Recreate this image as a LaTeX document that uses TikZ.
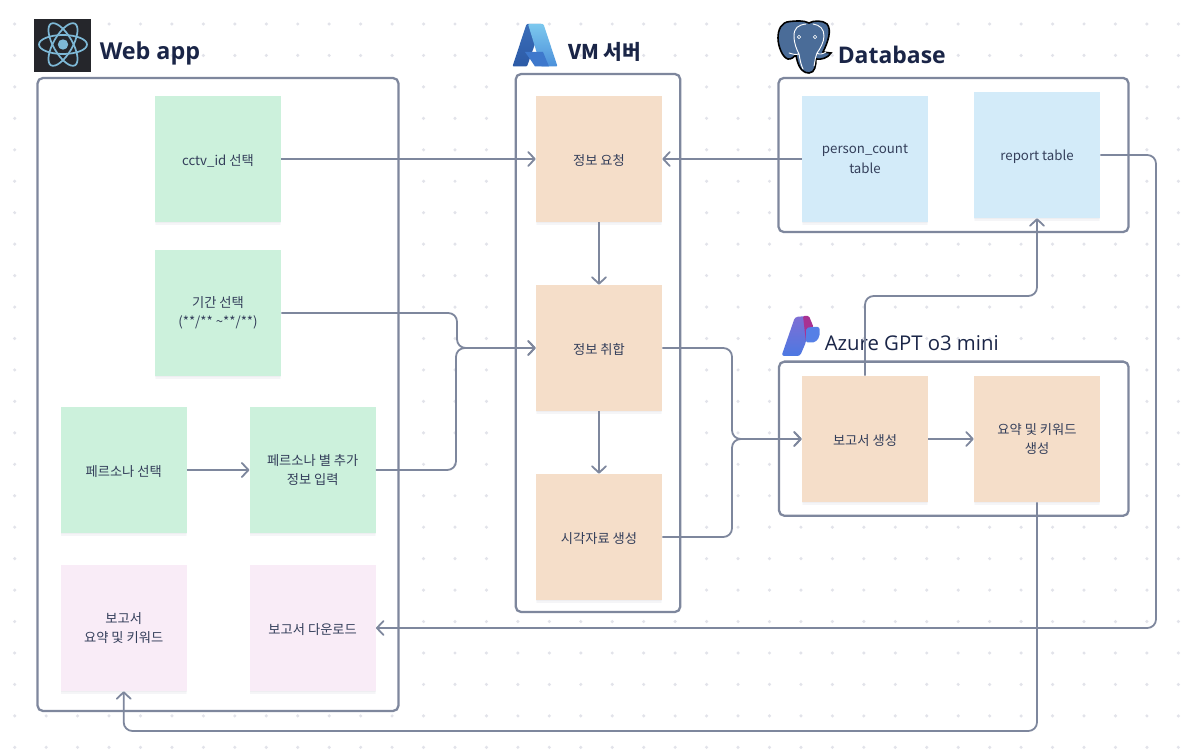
\documentclass[tikz,border=0pt]{standalone}
\usepackage{fontspec}
\setmainfont{Noto Sans CJK KR}
\newfontfamily\lat{Open Sans}
\usetikzlibrary{arrows.meta,shadows}
\definecolor{linec}{HTML}{7E879D}
\definecolor{dotc}{HTML}{E2E3EA}
\definecolor{titlec}{HTML}{1A2547}
\definecolor{textc}{HTML}{333E5A}
\definecolor{greenn}{HTML}{CCF1DC}
\definecolor{peach}{HTML}{F5DEC9}
\definecolor{bluen}{HTML}{D3EBF9}
\definecolor{pinkn}{HTML}{F9ECF7}
\definecolor{reactbg}{HTML}{25262B}
\definecolor{reactfg}{HTML}{7DB8D6}
\definecolor{pgblue}{HTML}{4A6C98}
\definecolor{shadowc}{HTML}{2A2F55}
\tikzset{
  x=.75pt,y=-.75pt,
  sticky/.style={minimum width=94.5pt,minimum height=94.5pt,inner sep=0pt,align=center,
    text=textc,font=\fontsize{9.95pt}{14.6pt}\selectfont,
    execute at begin node={\rule{0pt}{10.5pt}},
    general shadow={shadow yshift=-3pt,shadow scale=.99,fill=shadowc,opacity=.02},
    general shadow={shadow yshift=-2pt,fill=shadowc,opacity=.025},
    general shadow={shadow yshift=-1pt,fill=shadowc,opacity=.03}},
  groupbox/.style={draw=linec,line width=1.7pt,rounded corners=4pt,fill=white,inner sep=0pt},
  conn/.style={draw=linec,line width=1.35pt,rounded corners=6.5pt},
  arr/.style={conn,-{Straight Barb[length=5pt,width=10.5pt,line width=1.35pt,round]}},
  title/.style={anchor=west,text=titlec,inner sep=0pt},
}
\begin{document}
\begin{tikzpicture}
\useasboundingbox (0,0) rectangle (1192,755);
\fill[white] (0,0) rectangle (1192,755);
\foreach \i in {0,...,37}{\foreach \j in {0,...,23}{
  \fill[dotc] ({14.7+31.45*\i},{24+31.45*\j}) circle[radius=1.3pt];}}
% groups
\node[groupbox,minimum width=270.7pt,minimum height=474.7pt] (web) at (218,394.5) {};
\node[groupbox,minimum width=123.4pt,minimum height=403.5pt] (vm) at (598,343) {};
\node[groupbox,minimum width=262.5pt,minimum height=115.6pt] (db) at (953.5,155) {};
\node[groupbox,minimum width=262.2pt,minimum height=115.6pt] (gpt) at (953.8,438.7) {};
% titles
\node[title,font=\fontsize{17.5pt}{20pt}\selectfont\lat\bfseries] (tweb) at (99.5,53.5) {Web app};
\node[title,font=\fontsize{15.2pt}{18pt}\bfseries\selectfont] (tvm) at (568,52) {VM 서버};
\node[title,font=\fontsize{17.2pt}{20pt}\selectfont\lat\bfseries] (tdb) at (837.5,54.5) {Database};
\node[title,font=\fontsize{15.25pt}{18pt}\selectfont\lat] (tgpt) at (824.5,343) {Azure GPT o3 mini};
% stickies
\node[sticky,fill=greenn] (cctv) at (218,159) {cctv\_id 선택};
\node[sticky,fill=greenn] (period) at (218,313) {기간 선택\\(**/** \textasciitilde**/**)};
\node[sticky,fill=greenn] (psel) at (123.7,470) {페르소나 선택};
\node[sticky,fill=greenn] (pinfo) at (312.7,470) {페르소나 별 추가\\정보 입력};
\node[sticky,fill=pinkn] (rsum) at (123.7,628) {보고서\\요약 및 키워드};
\node[sticky,fill=pinkn] (rdown) at (312.7,628) {보고서 다운로드};
\node[sticky,fill=peach] (req) at (599,159) {정보 요청};
\node[sticky,fill=peach] (agg) at (599,348) {정보 취합};
\node[sticky,fill=peach] (vis) at (599,537) {시각자료 생성};
\node[sticky,fill=bluen] (pc) at (865,159) {person\_count\\table};
\node[sticky,fill=bluen] (rt) at (1037,155) {report table};
\node[sticky,fill=peach] (gen) at (865,439) {보고서 생성};
\node[sticky,fill=peach] (kw) at (1037,439) {요약 및 키워드\\생성};
% bend points
\coordinate (a1) at (457,313);
\coordinate (a2) at (457,348);
\coordinate (b1) at (456,470);
\coordinate (b2) at (456,348);
\coordinate (c1) at (732,348);
\coordinate (c2) at (732,439);
\coordinate (d1) at (732,537);
\coordinate (e1) at (865,296);
\coordinate (e2) at (1037,296);
\coordinate (f1) at (1156,155);
\coordinate (f2) at (1156,628);
\coordinate (g1) at (1037,731);
\coordinate (g2) at (123.7,731);
% connectors
\draw[arr] (cctv.east) -- (req.west);
\draw[arr] (pc.west) -- (req.east);
\draw[arr] (req.south) -- (agg.north);
\draw[arr] (agg.south) -- (vis.north);
\draw[arr] (psel.east) -- (pinfo.west);
\draw[arr] (gen.east) -- (kw.west);
\draw[arr] (period.east) -- (a1) -- (a2) -- (agg.west);
\draw[arr] (pinfo.east) -- (b1) -- (b2) -- (agg.west);
\draw[arr] (agg.east) -- (c1) -- (c2) -- (gen.west);
\draw[arr] (vis.east) -- (d1) -- (c2) -- (gen.west);
\draw[arr] (gen.north) -- (e1) -- (e2) -- (rt.south);
\draw[arr] (rt.east) -- (f1) -- (f2) -- (rdown.east);
\draw[arr] (kw.south) -- (g1) -- (g2) -- (rsum.south);
% React logo
\fill[reactbg] (34,19) rectangle (91.3,72.5);
\foreach \r in {0,60,120}
  \draw[reactfg,line width=1.3pt,rotate around={\r:(63,44.5)}] (63,44.5) ellipse[x radius=24,y radius=9.5];
\fill[reactfg] (63,44.5) circle[radius=3.9pt];
% Azure logo
\definecolor{az1}{HTML}{3A6DB8}
\definecolor{az2}{HTML}{2C5AA6}
\definecolor{az3}{HTML}{7CC8EE}
\definecolor{az4}{HTML}{4C90DA}
\definecolor{az5}{HTML}{3E78CC}
\shade[top color=az1,bottom color=az2,rounded corners=.8pt]
  (512.5,66.5) -- (526.5,24) -- (542,24) -- (527,66.5) -- cycle;
\shade[top color=az3,bottom color=az4,rounded corners=.8pt]
  (528,24) -- (543.5,24) -- (557.5,66.5) -- (541,66.5) -- cycle;
\fill[az5] (525,52) -- (543,52) -- (549,66.5) -- (535,66.5) -- (530,59) -- cycle;
% PostgreSQL logo
\draw[black,line width=1.2pt,fill=pgblue]
  (790,21.5) .. controls (781,22) and (778,30) .. (778,38)
  .. controls (778,47) and (783,58) .. (788,59)
  .. controls (791,59.5) and (794,57) .. (796,55)
  .. controls (797,62) and (800,73) .. (809,73)
  .. controls (815,73) and (816,65) .. (816,59)
  .. controls (821,60) and (828,58) .. (831,53)
  .. controls (828,52) and (825,53) .. (823,52)
  .. controls (828,42) and (832,30) .. (827,24)
  .. controls (823,20) and (813,20.5) .. (809,23)
  .. controls (803,20) and (796,21) .. (790,21.5) -- cycle;
\draw[white,line width=.7pt,line cap=round]
  (806,24) .. controls (798,25) and (794,28) .. (794,36)
  .. controls (794,44) and (797,50) .. (799,54) .. controls (800,60) and (801,65) .. (803,69)
  (813,24) .. controls (820,25) and (824,29) .. (824,36)
  .. controls (824,42) and (820,49) .. (817,53) .. controls (815,58) and (815,62) .. (814,66)
  (799,54) .. controls (795,55) and (792,54) .. (789,53)
  (817,53) .. controls (819,55) and (823,54) .. (826,52);
\draw[white,line width=.5pt] (799,37) circle[radius=1.3pt];
\draw[white,line width=.5pt] (815,37) circle[radius=1.3pt];
% Azure AI logo
\definecolor{ai1}{HTML}{4C78E2}
\definecolor{ai2}{HTML}{7F6FD4}
\definecolor{ai3}{HTML}{A83292}
\definecolor{ai4}{HTML}{5680E6}
\shade[bottom color=ai1,top color=ai2,rounded corners=2pt]
  (781.5,356) -- (795,317) -- (807,316) -- (806,342) -- (800,356) -- cycle;
\fill[ai3,rounded corners=1pt] (803,316) -- (809,316) -- (813.5,327) -- (806,342) -- cycle;
\fill[ai4,rounded corners=1.5pt] (811,327) -- (819.5,327) -- (819.5,337) -- (815,342.5) -- (806,342.5) -- (806,328) -- cycle;
\end{tikzpicture}
\end{document}
